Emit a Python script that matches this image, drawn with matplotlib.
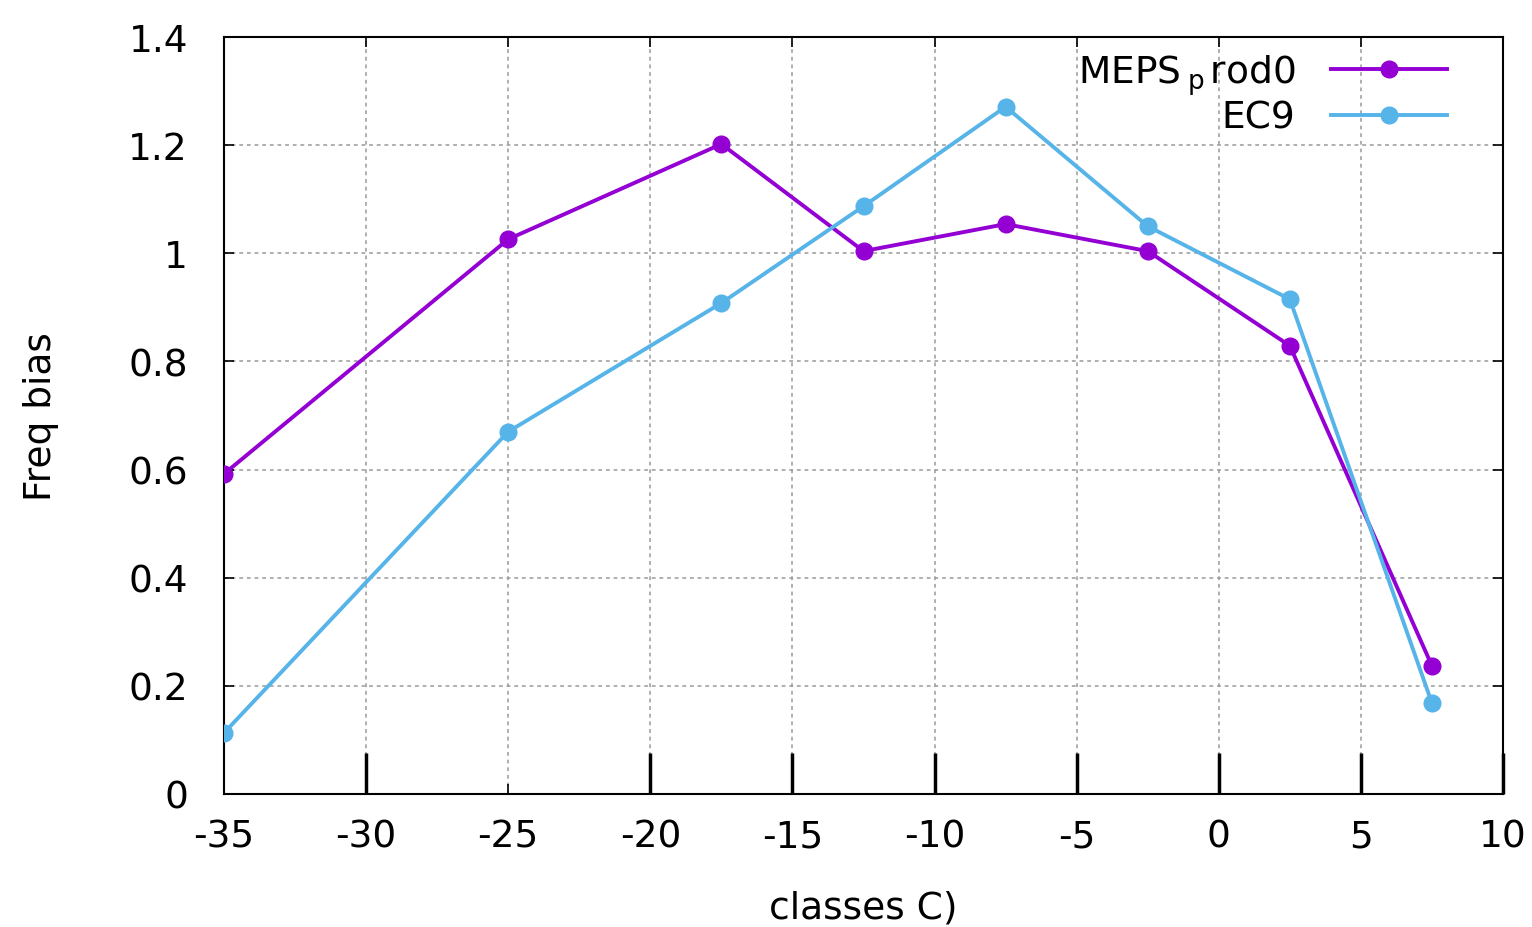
import numpy as np
import matplotlib.pyplot as plt

plt.rcParams['font.family'] = 'DejaVu Sans'
plt.rcParams['axes.unicode_minus'] = False

# class centres (C)
classes = [-35, -25, -17.5, -12.5, -7.5, -2.5, 2.5, 7.5]
meps_prod0 = [0.592, 1.026, 1.202, 1.004, 1.054, 1.004, 0.829, 0.237]
ec9 = [0.113, 0.670, 0.908, 1.087, 1.271, 1.050, 0.915, 0.168]

xticks = [-35, -30, -25, -20, -15, -10, -5, 0, 5, 10]
yticks = [0, 0.2, 0.4, 0.6, 0.8, 1, 1.2, 1.4]
ytick_labels = ['0', '0.2', '0.4', '0.6', '0.8', '1', '1.2', '1.4']
long_ticks = [-30, -20, -15, -10, -5, 0, 5, 10]

fs = 27

fig = plt.figure(figsize=(15.32, 9.28), dpi=100)
ax = fig.add_axes([224 / 1532, 133 / 928, 1279 / 1532, 757 / 928])

ax.plot(classes, meps_prod0, color='#9400D3', lw=2.8, marker='o', ms=12,
        label=r'MEPS$_{\mathregular{\;p\,}}$rod0', zorder=3)
ax.plot(classes, ec9, color='#56B4E9', lw=2.8, marker='o', ms=12,
        label='EC9', zorder=3)

ax.set_xlim(-35, 10)
ax.set_ylim(0, 1.4)
ax.set_xticks(xticks)
ax.set_yticks(yticks)
ax.set_yticklabels(ytick_labels)

# odd long ticks along the bottom
ax.vlines(long_ticks, 0, 0.075, colors='black', lw=2.5, zorder=4, clip_on=False)

ax.grid(True, color='#9a9a9a', linestyle=(0, (2.5, 2.5)), lw=1.1)
ax.tick_params(direction='in', length=7, width=1.2, top=True, right=True,
               labelsize=fs, pad=18)
ax.tick_params(axis='y', pad=26)
for s in ax.spines.values():
    s.set_linewidth(1.5)

ax.set_xlabel('classes C)', fontsize=fs, labelpad=25)
ax.set_ylabel('Freq bias', fontsize=fs, labelpad=50)

ax.legend(loc='upper right', frameon=False, markerfirst=False, fontsize=fs,
          handlelength=3.1, handletextpad=0.95, labelspacing=0.08,
          borderaxespad=0.0, bbox_to_anchor=(0.968, 1.0))

fig.savefig('out.png', dpi=100)
